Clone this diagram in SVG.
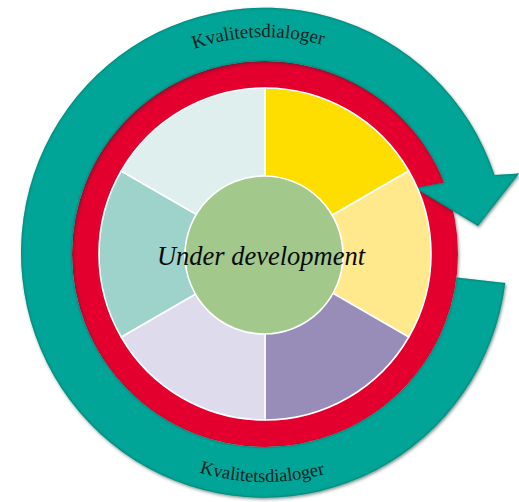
<svg xmlns="http://www.w3.org/2000/svg" width="519" height="502" viewBox="0 0 519 502">
  <style>
    .seg { stroke: #ffffff; stroke-width: 1.6; stroke-linejoin: round; }
    .label { font-family: "Liberation Serif", "Times New Roman", serif; fill: #10221f; }
    .center-label { font-family: "Liberation Serif", "Times New Roman", serif; font-style: italic; fill: #0a0a0a; }
  </style>
  <defs>
    <filter id="shadow" x="-10%" y="-10%" width="120%" height="120%">
      <feDropShadow dx="1" dy="1.5" stdDeviation="1.8" flood-color="#00302b" flood-opacity="0.5"/>
    </filter>
    <filter id="inner" x="-10%" y="-10%" width="120%" height="120%">
      <feComponentTransfer in="SourceAlpha" result="inv">
        <feFuncA type="table" tableValues="1 0"/>
      </feComponentTransfer>
      <feGaussianBlur in="inv" stdDeviation="1.8" result="blur"/>
      <feFlood flood-color="#003a34" flood-opacity="0.8" result="col"/>
      <feComposite in="col" in2="blur" operator="in" result="sh"/>
      <feComposite in="sh" in2="SourceAlpha" operator="in" result="ish"/>
      <feMerge>
        <feMergeNode in="SourceGraphic"/>
        <feMergeNode in="ish"/>
      </feMerge>
    </filter>
    <path id="arcTop" d="M 48 254 A 217 217 0 0 1 482 254"/>
    <path id="arcBottom" d="M 37 254 A 228 228 0 0 0 493 254"/>
  </defs>

  <rect width="519" height="502" fill="#ffffff"/>

  <!-- red ring -->
  <g id="red-ring">
    <circle cx="265" cy="254" r="179.5" fill="none" stroke="#E3032D" stroke-width="27" filter="url(#shadow)"/>
  </g>

  <!-- cycle arrow (connector) -->
  <g id="connectors">
    <g filter="url(#shadow)">
      <path id="cycle-arrow" fill="#05A597" filter="url(#inner)"
        d="M 456.6 277.5 L 505.2 282.9 A 243 245 0 1 1 494.5 175 L 519 173.5 L 478 226 L 415 188 L 444.3 182.6 A 193 193 0 1 0 456.6 277.5 Z"/>
    </g>
    <text class="label" font-size="19"><textPath href="#arcTop" startOffset="49%" text-anchor="middle">Kvalitetsdialoger</textPath></text>
    <text class="label" font-size="18.5"><textPath href="#arcBottom" startOffset="49.6%" text-anchor="middle">Kvalitetsdialoger</textPath></text>
  </g>

  <!-- wheel segments -->
  <g id="seg-1"><path class="seg" fill="#FEDD00" d="M 265 254 L 265 88 A 166 166 0 0 1 408.76 171 Z"/></g>
  <g id="seg-2"><path class="seg" fill="#FFE98C" d="M 265 254 L 408.76 171 A 166 166 0 0 1 408.76 337 Z"/></g>
  <g id="seg-3"><path class="seg" fill="#978DB8" d="M 265 254 L 408.76 337 A 166 166 0 0 1 265 420 Z"/></g>
  <g id="seg-4"><path class="seg" fill="#DEDCEC" d="M 265 254 L 265 420 A 166 166 0 0 1 121.24 337 Z"/></g>
  <g id="seg-5"><path class="seg" fill="#9DD3CB" d="M 265 254 L 121.24 337 A 166 166 0 0 1 121.24 171 Z"/></g>
  <g id="seg-6"><path class="seg" fill="#DFEFEE" d="M 265 254 L 121.24 171 A 166 166 0 0 1 265 88 Z"/></g>

  <!-- center -->
  <g id="center">
    <circle cx="264" cy="255" r="79" fill="#A2C98B" stroke="#ffffff" stroke-width="1.6"/>
    <text class="center-label" x="261" y="265" font-size="26.5" text-anchor="middle">Under development</text>
  </g>
</svg>
